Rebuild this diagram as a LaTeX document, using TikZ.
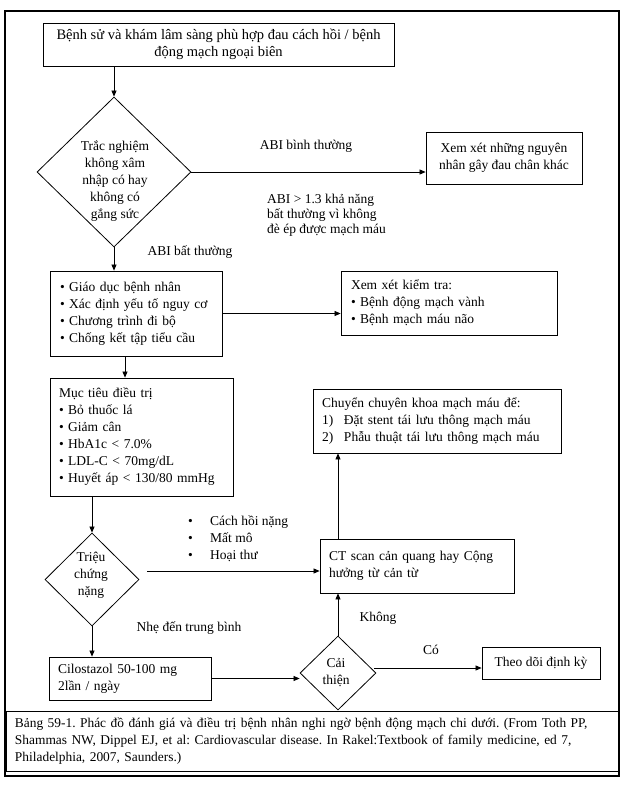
\documentclass[tikz,border=0pt]{standalone}
\usepackage{fontspec}
\setmainfont{Liberation Serif}
\usetikzlibrary{shapes.geometric,arrows.meta}
\frenchspacing
\begin{document}
\begin{tikzpicture}[x=1pt,y=-1pt,
  every node/.style={font=\fontsize{13.5}{17}\selectfont, inner sep=0pt},
  box/.style={draw, line width=0.8pt, rectangle},
  dia/.style={draw, line width=0.8pt, diamond},
  arr/.style={draw, line width=0.7pt, -{Triangle[length=6pt,width=5pt]}}]
\useasboundingbox (0,0) rectangle (624,793);
\draw[line width=1.2pt] (5,11) rectangle (619,776);

% boxes
\node[box, minimum width=351pt, minimum height=43pt, align=center,
  font=\fontsize{14.5}{17}\selectfont] (top) at (218.5,44.5)
  {Bệnh sử và khám lâm sàng phù hợp đau cách hồi / bệnh\\động mạch ngoại biên};
\node[box, minimum width=156pt, minimum height=52pt, align=center] (xem) at (504,158)
  {Xem xét những nguyên\\nhân gây đau chân khác};
\node[box, minimum width=172pt, minimum height=85pt, text width=152pt, align=left] (box2) at (136,313.5)
  {• Giáo dục bệnh nhân\\• Xác định yếu tố nguy cơ\\• Chương trình đi bộ\\• Chống kết tập tiểu cầu};
\node[box, minimum width=216pt, minimum height=64pt, text width=196pt, align=left] (box3) at (449,303)
  {Xem xét kiểm tra:\\• Bệnh động mạch vành\\• Bệnh mạch máu não};
\node[box, minimum width=183pt, minimum height=118pt, text width=165pt, align=left] (box4) at (141.5,437)
  {Mục tiêu điều trị\\• Bỏ thuốc lá\\• Giảm cân\\• HbA1c < 7.0\%\\• LDL-C < 70mg/dL\\• Huyết áp < 130/80 mmHg};
\node[box, minimum width=248pt, minimum height=64pt, text width=230pt, align=left] (box5) at (437,421)
  {Chuyển chuyên khoa mạch máu để:\\\makebox[22pt][l]{1)}Đặt stent tái lưu thông mạch máu\\\makebox[22pt][l]{2)}Phẫu thuật tái lưu thông mạch máu};
\node[box, minimum width=194pt, minimum height=54pt, text width=176pt, align=left] (box6) at (417,566)
  {CT scan cản quang hay Cộng\\hưởng từ cản từ};
\node[box, minimum width=162pt, minimum height=43pt, text width=144pt, align=left] (box7) at (130,678.5)
  {Cilostazol 50-100 mg\\2lần / ngày};
\node[box, minimum width=118pt, minimum height=32pt, align=center] (box8) at (541,663)
  {Theo dõi định kỳ};
\node[box, minimum width=612pt, minimum height=60pt, text width=594pt, align=left,
  font=\fontsize{13.4}{16.7}\selectfont] (cap) at (312,741)
  {Bảng 59-1. Phác đồ đánh giá và điều trị bệnh nhân nghi ngờ bệnh động mạch chi dưới. (From Toth PP,\\Shammas NW, Dippel EJ, et al: Cardiovascular disease. In Rakel:Textbook of family medicine, ed 7,\\Philadelphia, 2007, Saunders.)};

% diamonds
\node[dia, minimum width=154pt, minimum height=150pt] (d1) at (114,172) {};
\node[align=center] (d1t) at (115,181) {Trắc nghiệm\\không xâm\\nhập có hay\\không có\\gắng sức};
\node[dia, minimum width=94pt, minimum height=93pt] (d2) at (92,579.5) {};
\node[align=center] (d2t) at (91,575.5) {Triệu\\chứng\\nặng};
\node[dia, minimum width=76pt, minimum height=74pt] (d3) at (338,673) {};
\node[align=center] (d3t) at (336,673) {Cải\\thiện};

% labels
\node (l1) at (306,146) {ABI bình thường};
\node[align=left, anchor=west, font=\fontsize{13.5}{15}\selectfont] (l2) at (267,215)
  {ABI > 1.3 khả năng\\bất thường vì không\\đè ép được mạch máu};
\node (l3) at (190,252) {ABI bất thường};
\node[align=left, anchor=west] (l4) at (188,539)
  {\makebox[22pt][l]{•}Cách hồi nặng\\\makebox[22pt][l]{•}Mất mô\\\makebox[22pt][l]{•}Hoại thư};
\node (l5) at (189,628) {Nhẹ đến trung bình};
\node (l6) at (378,618) {Không};
\node (l7) at (431,650) {Có};

% connectors
\coordinate (c24) at (125,0);
\coordinate (c26) at (147,571);
\coordinate (c38) at (374,668);
\draw[arr] (d1.north |- top.south) -- (d1.north);
\draw[arr] (d1.east) -- (d1.east -| xem.west);
\draw[arr] (d1.south) -- (d1.south |- box2.north);
\draw[arr] (box2.east) -- (box2.east -| box3.west);
\draw[arr] (c24 |- box2.south) -- (c24 |- box4.north);
\draw[arr] (d2.north |- box4.south) -- (d2.north);
\draw[arr] (c26) -- (c26 -| box6.west);
\draw[arr] (d3.north |- box6.north) -- (d3.north |- box5.south);
\draw[arr] (d2.south) -- (d2.south |- box7.north);
\draw[arr] (box7.east) -- (box7.east -| d3.west);
\draw[arr] (d3.north) -- (d3.north |- box6.south);
\draw[arr] (c38) -- (c38 -| box8.west);
\end{tikzpicture}
\end{document}
